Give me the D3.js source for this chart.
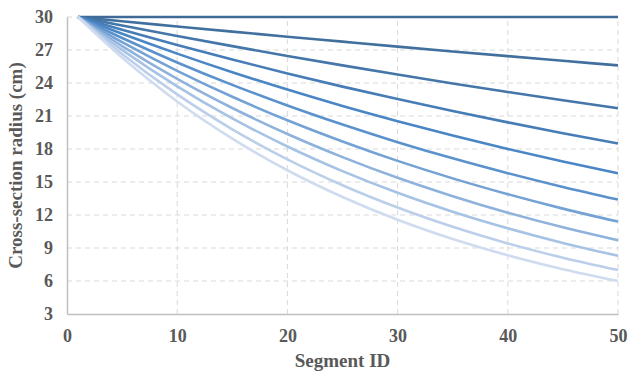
<!DOCTYPE html>
<html lang="en">
<head>
    <meta charset="UTF-8">
    <title>Cross-section radius</title>
    <style>
        body { margin: 0; background: #fff; }
        svg { display: block; }
        .tick text { font-family: "Liberation Serif", "Times New Roman", serif; font-weight: bold; font-size: 18px; fill: #595959; }
        .title { font-family: "Liberation Serif", "Times New Roman", serif; font-weight: bold; font-size: 19px; fill: #595959; }
    </style>
</head>
<body>
    <script src="https://d3js.org/d3.v7.min.js"></script>
    <script>
        // sampled segment ids
        const segments = [1, 5, 10, 15, 20, 25, 30, 35, 40, 45, 50]

        // radius (cm) at the segment ids above
        const r1  = [30, 30, 30, 30, 30, 30, 30, 30, 30, 30, 30]
        const r2  = [30, 29.61, 29.14, 28.67, 28.21, 27.76, 27.31, 26.87, 26.44, 26.02, 25.6]
        const r3  = [30, 29.22, 28.27, 27.35, 26.46, 25.60, 24.77, 23.96, 23.18, 22.43, 21.7]
        const r4  = [30, 28.84, 27.45, 26.13, 24.87, 23.67, 22.54, 21.45, 20.42, 19.44, 18.5]
        const r5  = [30, 28.47, 26.67, 24.98, 23.40, 21.91, 20.53, 19.23, 18.01, 16.87, 15.8]
        const r6  = [30, 28.09, 25.87, 23.83, 21.95, 20.22, 18.62, 17.15, 15.80, 14.55, 13.4]
        const r7  = [30, 27.72, 25.11, 22.75, 20.61, 18.68, 16.92, 15.33, 13.89, 12.58, 11.4]
        const r8  = [30, 27.36, 24.38, 21.73, 19.36, 17.26, 15.38, 13.71, 12.21, 10.88, 9.7]
        const r9  = [30, 27.01, 23.69, 20.78, 18.23, 15.99, 14.02, 12.30, 10.79, 9.46, 8.3]
        const r10 = [30, 26.64, 22.96, 19.79, 17.06, 14.71, 12.68, 10.93, 9.42, 8.12, 7.0]
        const r11 = [30, 26.31, 22.32, 18.94, 16.07, 13.64, 11.57, 9.82, 8.33, 7.07, 6.0]

        const xTicks = [0, 10, 20, 30, 40, 50]
        const yTicks = [3, 6, 9, 12, 15, 18, 21, 24, 27, 30]

        const series = [r1, r2, r3, r4, r5, r6, r7, r8, r9, r10, r11]
        const colors = ['#3f6a96', '#41709f', '#4476a9', '#477db6', '#4a86c5', '#5b92cd',
                        '#74a2d5', '#8eb2dc', '#a6c2e4', '#bccfea', '#cfdcef']

        const width = 628
        const height = 376
        const margin = { top: 17, right: 10, bottom: 62, left: 67 }

        const svg = d3.select('body')
            .append('svg')
            .attr('width', width)
            .attr('height', height)

        const x = d3.scaleLinear()
            .domain([0, 50])
            .range([margin.left, 618])

        const y = d3.scaleLinear()
            .domain([3, 30])
            .range([314, margin.top])

        // dashed grid
        svg.append('g')
            .selectAll('line')
            .data(yTicks.slice(1))
            .join('line')
            .attr('x1', x(0)).attr('x2', x(50))
            .attr('y1', d => y(d)).attr('y2', d => y(d))
            .attr('stroke', '#d9d9d9')
            .attr('stroke-dasharray', '5,4')

        svg.append('g')
            .selectAll('line')
            .data(xTicks.slice(1))
            .join('line')
            .attr('x1', d => x(d)).attr('x2', d => x(d))
            .attr('y1', y(3)).attr('y2', y(30))
            .attr('stroke', '#d9d9d9')
            .attr('stroke-dasharray', '5,4')

        // axes
        const xAxis = svg.append('g')
            .attr('transform', `translate(0, ${y(3)})`)
            .call(d3.axisBottom(x).tickValues(xTicks).tickSize(0).tickPadding(15))
        xAxis.select('.domain').attr('stroke', '#bfbfbf').attr('stroke-width', 1.5)

        const yAxis = svg.append('g')
            .attr('transform', `translate(${x(0)}, 0)`)
            .call(d3.axisLeft(y).tickValues(yTicks).tickSize(0).tickPadding(14))
        yAxis.select('.domain').attr('stroke', '#bfbfbf').attr('stroke-width', 1.5)

        // curves
        const line = d3.line()
            .x((d, i) => x(segments[i]))
            .y(d => y(d))
            .curve(d3.curveMonotoneX)

        svg.append('g')
            .selectAll('path')
            .data(series)
            .join('path')
            .attr('fill', 'none')
            .attr('stroke', (_, i) => colors[i])
            .attr('stroke-width', 2.6)
            .attr('d', line)

        // titles
        svg.append('text')
            .attr('class', 'title')
            .attr('x', x(25))
            .attr('y', 367)
            .attr('text-anchor', 'middle')
            .text('Segment ID')

        svg.append('text')
            .attr('class', 'title')
            .attr('transform', `translate(22, ${y(16.5)}) rotate(-90)`)
            .attr('text-anchor', 'middle')
            .text('Cross-section radius (cm)')
    </script>
</body>
</html>
